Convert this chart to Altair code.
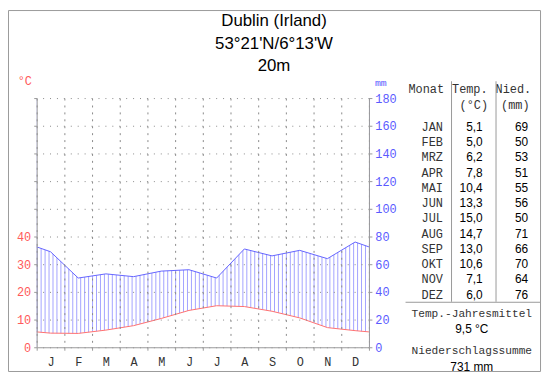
import json
import altair as alt
import pandas as pd

# ---------------- data ----------------
title_lines = ["Dublin (Irland)", "53°21'N/6°13'W", "20m"]
month_letters = ["J", "F", "M", "A", "M", "J", "J", "A", "S", "O", "N", "D"]
month_names = ["JAN", "FEB", "MRZ", "APR", "MAI", "JUN", "JUL", "AUG", "SEP", "OKT", "NOV", "DEZ"]
temperature = [5.1, 5.0, 6.2, 7.8, 10.4, 13.3, 15.0, 14.7, 13.0, 10.6, 7.1, 6.0]
precipitation = [69, 50, 53, 51, 55, 56, 50, 71, 66, 70, 64, 76]
mm_ticks = [0, 20, 40, 60, 80, 100, 120, 140, 160, 180]
temp_ticks = [0, 10, 20, 30, 40]
header_row1 = ["Monat", "Temp.", "Nied."]
header_row2 = ["(°C)", "(mm)"]
summary_titles = ["Temp.-Jahresmittel", "Niederschlagssumme"]

# ---------------- derived tables ----------------
edge_p = (precipitation[0] + precipitation[-1]) / 2
edge_t = (temperature[0] + temperature[-1]) / 2
curve = pd.DataFrame({
    "x": [0] + [i + 0.5 for i in range(12)] + [12],
    "p": [edge_p] + precipitation + [edge_p],
    "t2": [2 * edge_t] + [2 * t for t in temperature] + [2 * edge_t],
})
table = pd.DataFrame({
    "i": list(range(12)),
    "m": month_names,
    "t": [f"{t:.1f}".replace(".", ",") for t in temperature],
    "p": [str(p) for p in precipitation],
})
mean_t = f"{sum(temperature) / len(temperature):.1f}".replace(".", ",") + " °C"
total_p = f"{sum(precipitation)} mm"

RED = "#ff5a5a"
BLUE = "#5a5aff"
HATCH = "#a3a3ff"
PLINE = "#6464ff"
TLINE = "#ff7070"
GRAY = "#9a9a9a"
GRID = "#8a8a8a"
MONO = "Liberation Mono"
SANS = "Liberation Sans"

xs = alt.Scale(domain=[0, 12], nice=False, zero=False)
ys = alt.Scale(domain=[0, 180], nice=False, zero=True)

x_axis = alt.Axis(
    values=list(range(13)),
    labelExpr=f"datum.value < 12 ? {json.dumps(month_letters)}[datum.value] : ''",
    labelOffset=14, labelFlush=False, labelOverlap=False, labelAngle=0,
    grid=True, gridDash=[2, 5], gridColor=GRID,
    domainColor=GRAY, tickColor=GRAY, tickSize=3,
    labelFont=MONO, labelFontSize=12, labelColor="#333333", labelPadding=6,
    title=None, zindex=1,
)
right_axis = alt.Axis(
    orient="right", values=mm_ticks,
    grid=True, gridDash=[1, 6], gridColor=GRID,
    domainColor=GRAY, tickColor=GRAY, tickSize=3,
    labelFont=MONO, labelFontSize=12, labelColor=BLUE, labelPadding=3,
    title=None, zindex=1,
)
left_axis = alt.Axis(
    orient="left", values=mm_ticks,
    labelExpr=f"datum.value <= {2 * max(temp_ticks)} ? format(datum.value / 2, 'd') : ''",
    grid=False, domainColor=GRAY, tickColor=GRAY, tickSize=3,
    labelFont=MONO, labelFontSize=12, labelColor=RED, labelPadding=3,
    title=None, zindex=1,
)

# hatch (vertical rules, masked afterwards by white areas)
hatch = alt.Chart(alt.sequence(0, 85, 1, as_="k")).transform_calculate(
    x="datum.k / 7"
).mark_rule(color=HATCH, strokeWidth=1, xOffset=0.5).encode(
    x=alt.X("x:Q", scale=xs, axis=None),
    y=alt.Y(datum=0, scale=ys, axis=None),
    y2=alt.datum(180),
)
mask_top = alt.Chart(curve).mark_area(color="white", opacity=1).encode(
    x=alt.X("x:Q", scale=xs, axis=None),
    y=alt.Y("p:Q", scale=ys, axis=None),
    y2=alt.datum(180),
)
mask_bottom = alt.Chart(curve).mark_area(color="white", opacity=1).encode(
    x=alt.X("x:Q", scale=xs, axis=None),
    y=alt.Y("t2:Q", scale=ys, axis=None),
    y2=alt.datum(0),
)
group_a = alt.layer(hatch, mask_top, mask_bottom)

p_line = alt.Chart(curve).mark_line(color=PLINE, strokeWidth=1).encode(
    x=alt.X("x:Q", scale=xs, axis=None),
    y=alt.Y("p:Q", scale=ys, axis=right_axis),
)
t_line = alt.Chart(curve).mark_line(color=TLINE, strokeWidth=1).encode(
    x=alt.X("x:Q", scale=xs, axis=x_axis),
    y=alt.Y("t2:Q", scale=ys, axis=left_axis),
)

# table
ty = alt.Y("i:Q", scale=alt.Scale(domain=[0, 11], range=[29, 29 + 11 * 15.45]), axis=None)
tbase = alt.Chart(table)
t_month = tbase.mark_text(font=MONO, fontSize=12, color="#333333", align="center", baseline="middle").encode(
    x=alt.value(400), y=ty, text="m:N")
t_temp = tbase.mark_text(font=SANS, fontSize=12, color="#000000", align="right", baseline="middle").encode(
    x=alt.value(451), y=ty, text="t:N")
t_prec = tbase.mark_text(font=SANS, fontSize=12, color="#000000", align="right", baseline="middle").encode(
    x=alt.value(497), y=ty, text="p:N")
table_layer = alt.layer(t_month, t_temp, t_prec)

dummy = pd.DataFrame({"d": [0]})


def label(text, x, y, font=MONO, size=11, color="#333333", align="center"):
    return alt.Chart(dummy).mark_text(
        text=text, font=font, fontSize=size, color=color, align=align, baseline="middle"
    ).encode(x=alt.value(x), y=alt.value(y))


def rule(x, x2, y, y2, color=GRAY):
    return alt.Chart(dummy).mark_rule(color=color, strokeWidth=1).encode(
        x=alt.value(x), x2=alt.value(x2), y=alt.value(y), y2=alt.value(y2))


texts = [
    label(title_lines[0], 240, -78, font=SANS, size=17, color="#000000"),
    label(title_lines[1], 240, -55, font=SANS, size=17, color="#000000"),
    label(title_lines[2], 240, -32, font=SANS, size=17, color="#000000"),
    label("°C", -12, -17, size=12, color=RED),
    label("mm", 348, -15, size=10, color=BLUE),
    label(header_row1[0], 394, -9, size=12),
    label(header_row1[1], 438, -9, size=12),
    label(header_row1[2], 482, -9, size=12),
    label(header_row2[0], 442, 7, size=12),
    label(header_row2[1], 484, 7, size=12),
    label(summary_titles[0], 440, 218, size=11.3),
    label(mean_t, 440, 234, font=SANS, size=12, color="#000000"),
    label(summary_titles[1], 440, 256, size=11.3),
    label(total_p, 440, 272, font=SANS, size=12, color="#000000"),
    rule(419.5, 419.5, -17, 206),
    rule(464.5, 464.5, -17, 206),
    rule(373, 509, 206.5, 206.5),
]

frame = alt.Chart(dummy).mark_rect(fill="white", fillOpacity=0, stroke="#9a9a9a", strokeWidth=1).encode(
    x=alt.value(-28.5), x2=alt.value(509.5), y=alt.value(-88.5), y2=alt.value(276.5))

chart = alt.layer(group_a, p_line, t_line, table_layer, *texts, frame).resolve_scale(
    x="independent", y="independent"
).properties(
    width=336, height=252,
    padding={"left": 29, "top": 89, "right": 175, "bottom": 28},
    autosize=alt.AutoSizeParams(type="none"),
    background="white",
).configure_view(stroke=None)

chart.save("out.html", embed_options={"renderer": "svg", "actions": False})
